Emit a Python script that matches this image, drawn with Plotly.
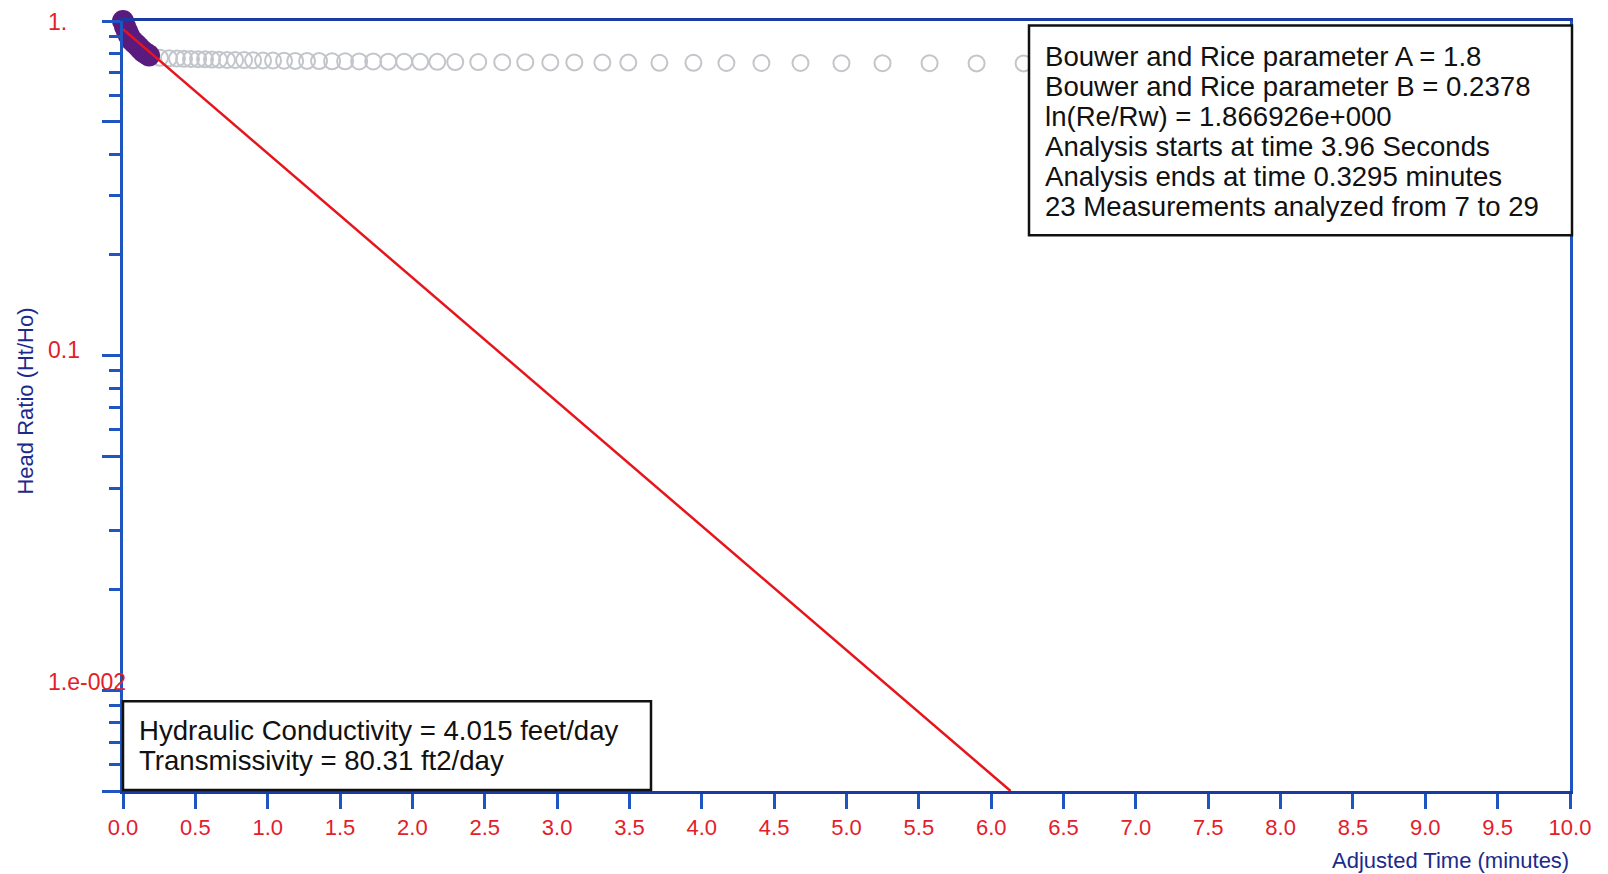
import math
import plotly.graph_objects as go

# ---------------- data ----------------
# analysed (purple) measurements
fit_t = [0.0, 0.014, 0.028, 0.041, 0.055, 0.076, 0.097, 0.118, 0.138, 0.159, 0.180]
fit_h = [1.0, 0.963, 0.931, 0.905, 0.881, 0.863, 0.846, 0.828, 0.811, 0.800, 0.789]

# remaining (grey, hollow) measurements
obs_t = [0.256, 0.318, 0.373, 0.422, 0.470,
         0.519, 0.567, 0.615, 0.664, 0.719,
         0.775, 0.837, 0.899, 0.968, 1.037,
         1.113, 1.190, 1.272, 1.355, 1.445,
         1.535, 1.632, 1.729, 1.833, 1.943,
         2.054, 2.172, 2.296, 2.455, 2.621,
         2.780, 2.953, 3.119, 3.313, 3.492,
         3.707, 3.942, 4.170, 4.412, 4.682,
         4.965, 5.249, 5.574, 5.899, 6.224]
obs_h = [0.776, 0.774, 0.772, 0.771, 0.770,
         0.769, 0.768, 0.767, 0.766, 0.765,
         0.765, 0.764, 0.763, 0.762, 0.762,
         0.761, 0.760, 0.760, 0.759, 0.758,
         0.758, 0.757, 0.757, 0.756, 0.756,
         0.755, 0.755, 0.754, 0.754, 0.753,
         0.753, 0.752, 0.752, 0.751, 0.751,
         0.750, 0.750, 0.749, 0.749, 0.749,
         0.748, 0.748, 0.748, 0.747, 0.747]

# Bouwer & Rice straight-line fit
line_t = [0.0, 6.134]
line_h = [0.945, 0.005]

xtick_vals = [0.0, 0.5, 1.0, 1.5, 2.0, 2.5, 3.0, 3.5, 4.0, 4.5, 5.0,
              5.5, 6.0, 6.5, 7.0, 7.5, 8.0, 8.5, 9.0, 9.5, 10.0]
xtick_text = ["0.0", "0.5", "1.0", "1.5", "2.0", "2.5", "3.0", "3.5", "4.0", "4.5", "5.0",
              "5.5", "6.0", "6.5", "7.0", "7.5", "8.0", "8.5", "9.0", "9.5", "10.0"]
ytick_vals = [1.0, 0.1, 0.01]
ytick_text = ["1.", "0.1", "1.e-002"]
ymajor_ticks = [1.0, 0.5, 0.1, 0.05, 0.01, 0.005]
yminor_ticks = [0.9, 0.8, 0.7, 0.6, 0.4, 0.3, 0.2,
                0.09, 0.08, 0.07, 0.06, 0.04, 0.03, 0.02,
                0.009, 0.008, 0.007, 0.006]

params_lines = [
    "Bouwer and Rice parameter A = 1.8",
    "Bouwer and Rice parameter B = 0.2378",
    "ln(Re/Rw) = 1.866926e+000",
    "Analysis starts at time 3.96 Seconds",
    "Analysis ends at time 0.3295 minutes",
    "23 Measurements analyzed from 7 to 29",
]
result_lines = [
    "Hydraulic Conductivity = 4.015 feet/day",
    "Transmissivity = 80.31 ft2/day",
]
x_title = "Adjusted Time (minutes)"
y_title = "Head Ratio (Ht/Ho)"

# ---------------- layout geometry ----------------
# the page body has an 8px margin, so the figure is drawn 8px in from the corner
OFF = 8
W, H = 1608 - OFF, 874 - OFF
PLOT_L, PLOT_T, PLOT_R, PLOT_B = 123, 18, 1570, 791   # page pixels of the plot area
L, T = PLOT_L - OFF, PLOT_T - OFF
R, B = W - (PLOT_R - OFF), H - (PLOT_B - OFF)
PW, PH = PLOT_R - PLOT_L, PLOT_B - PLOT_T
FONT = "Arial, Liberation Sans, sans-serif"
RED = "#e3202a"
NAVY = "#1c2a8c"
BLUE = "#1f55c0"


def px(xp):
    return (xp - PLOT_L) / PW


def py(yp):
    return (PLOT_B - yp) / PH


fig = go.Figure()
fig.add_trace(go.Scatter(
    x=obs_t, y=obs_h, mode="markers",
    marker=dict(size=16, color="rgba(0,0,0,0)",
                line=dict(color="#c2c5ca", width=2)),
    showlegend=False, cliponaxis=False))
fig.add_trace(go.Scatter(
    x=fit_t, y=fit_h, mode="markers",
    marker=dict(size=22, color="#5a1b7e", line=dict(width=0)),
    showlegend=False, cliponaxis=False))
fig.add_trace(go.Scatter(
    x=line_t, y=line_h, mode="lines",
    line=dict(color="#e8141c", width=2.5),
    showlegend=False))

annotations = []
# y tick labels (left aligned like the original)
for v, txt, ys in zip(ytick_vals, ytick_text, [-1, 6, 8]):
    annotations.append(dict(
        x=px(46), xref="paper", xanchor="left",
        y=math.log10(v), yref="y", yanchor="middle", yshift=ys,
        text=txt, showarrow=False,
        font=dict(family=FONT, size=23, color=RED)))

# axis titles
annotations.append(dict(
    x=px(26), xref="paper", xanchor="center",
    y=py(400), yref="paper", yanchor="middle",
    text=y_title, textangle=-90, showarrow=False,
    font=dict(family=FONT, size=22, color=NAVY)))
annotations.append(dict(
    x=px(1571), xref="paper", xanchor="right",
    y=py(861), yref="paper", yanchor="middle",
    text=x_title, showarrow=False,
    font=dict(family=FONT, size=22, color=NAVY)))

# parameter box text
for i, line in enumerate(params_lines):
    annotations.append(dict(
        x=px(1043), xref="paper", xanchor="left",
        y=py(53.5 + 30.1 * i), yref="paper", yanchor="middle",
        text=line, showarrow=False,
        font=dict(family=FONT, size=27.6, color="#111111")))
# result box text
for i, line in enumerate(result_lines):
    annotations.append(dict(
        x=px(137), xref="paper", xanchor="left",
        y=py(730 + 30 * i), yref="paper", yanchor="middle",
        text=line, showarrow=False,
        font=dict(family=FONT, size=27.6, color="#111111")))

shapes = [
    dict(type="rect", xref="paper", yref="paper",
         x0=px(1029), x1=px(1572), y0=py(233), y1=py(22.5),
         line=dict(color="#111111", width=2.5), fillcolor="white", layer="above"),
    dict(type="rect", xref="paper", yref="paper",
         x0=px(123), x1=px(651), y0=py(790), y1=py(701),
         line=dict(color="#111111", width=2.5), fillcolor="white", layer="above"),
]

fig.update_layout(
    width=W, height=H,
    margin=dict(l=L, r=R, t=T, b=B, pad=0),
    paper_bgcolor="white", plot_bgcolor="white",
    showlegend=False,
    annotations=annotations,
    shapes=shapes,
    xaxis=dict(
        range=[0, 10], tickmode="array", tickvals=xtick_vals, ticktext=xtick_text,
        ticks="outside", ticklen=15, tickwidth=2.5, tickcolor=BLUE,
        tickfont=dict(family=FONT, size=22, color=RED),
        showgrid=False, zeroline=False,
        showline=True, linecolor="#1a3aa6", linewidth=3, mirror=True,
    ),
    yaxis=dict(
        type="log", range=[math.log10(0.005), 0],
        tickmode="array", tickvals=ymajor_ticks, showticklabels=False,
        ticks="outside", ticklen=18, tickwidth=2.5, tickcolor=BLUE,
        minor=dict(tickmode="array", tickvals=yminor_ticks, ticks="outside",
                   ticklen=11, tickwidth=2.5, tickcolor=BLUE, showgrid=False),
        showgrid=False, zeroline=False,
        showline=True, linecolor=BLUE, linewidth=3, mirror=True,
    ),
)

fig.write_html("out.html")
